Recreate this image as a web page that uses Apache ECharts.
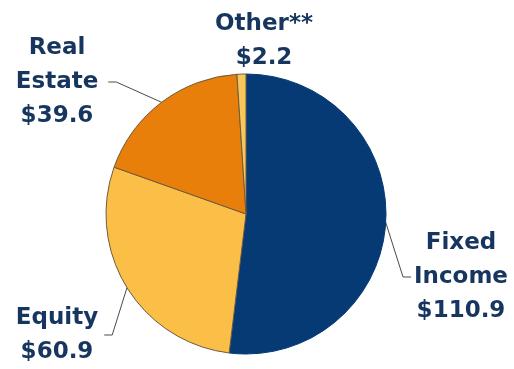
<!DOCTYPE html>
<html>
<head>
<meta charset="utf-8">
<script src="https://cdn.jsdelivr.net/npm/echarts@6/dist/echarts.min.js"></script>
<style>
  html, body { margin: 0; padding: 0; background: #ffffff; }
  #chart { width: 514px; height: 369px; }
</style>
</head>
<body>
<div id="chart"></div>
<script>
// Assets by class ($)
const categories = ['Fixed Income', 'Equity', 'Real Estate', 'Other**'];
const labelNames = ['Fixed\nIncome', 'Equity', 'Real\nEstate', 'Other**'];
const values = [110.9, 60.9, 39.6, 2.2];

const sliceColors = ['#053a74', '#fbbf48', '#e97f0b', '#f7c75c'];
const sliceBorders = ['#053a74', '#6e5a40', '#6e5a40', '#6e5a40'];

// Where each label block sits and which side its leader line attaches to
const labelSpots = [
  { x: 461, y: 277, side: 'left', gap: 3 },
  { x: 57, y: 335, side: 'right', gap: 6 },
  { x: 57, y: 82, side: 'right', gap: 10 },
  { x: 264, y: 41, side: null, gap: 0 }
];

const chart = echarts.init(document.getElementById('chart'), null, { renderer: 'canvas' });

const data = categories.map((name, i) => ({
  name: name,
  value: values[i],
  itemStyle: { color: sliceColors[i], borderColor: sliceBorders[i] },
  labelLine: { show: labelSpots[i].side !== null }
}));

chart.setOption({
  animation: false,
  backgroundColor: '#ffffff',
  series: [{
    type: 'pie',
    center: [246, 214],
    radius: [0, 140],
    startAngle: 90,
    clockwise: true,
    avoidLabelOverlap: false,
    data: data,
    itemStyle: { borderWidth: 1 },
    label: {
      show: true,
      position: 'outside',
      formatter: p => labelNames[p.dataIndex] + '\n$' + p.value.toFixed(1),
      color: '#17365f',
      fontFamily: 'DejaVu Sans',
      fontWeight: 'bold',
      fontSize: 23,
      lineHeight: 34,
      align: 'center'
    },
    labelLine: {
      show: true,
      length: 10,
      length2: 8,
      smooth: false,
      lineStyle: { color: '#4a4a4a', width: 1 }
    },
    labelLayout: function (params) {
      const spot = labelSpots[params.dataIndex];
      const w = params.labelRect.width;
      const out = { x: spot.x, y: spot.y, align: 'center', verticalAlign: 'middle' };
      const pts = params.labelLinePoints;
      if (spot.side && pts && pts[0]) {
        const dir = spot.side === 'left' ? -1 : 1;
        const sideX = spot.x + dir * (w / 2 + spot.gap);
        out.labelLinePoints = [
          [pts[0][0], pts[0][1]],
          [sideX + dir * 8, spot.y],
          [sideX, spot.y]
        ];
      }
      return out;
    }
  }]
});
</script>
</body>
</html>
